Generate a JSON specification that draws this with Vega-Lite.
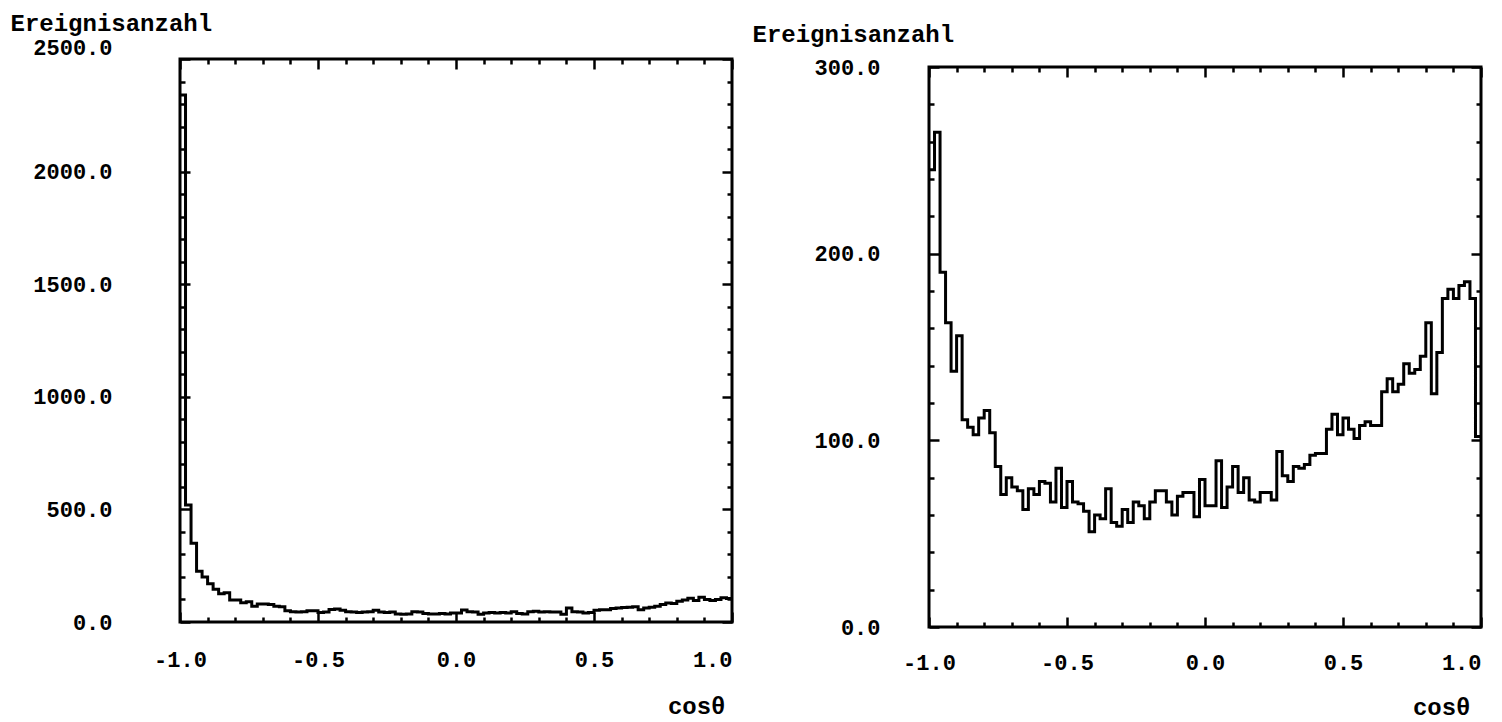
{
  "$schema": "https://vega.github.io/schema/vega-lite/v6.json",
  "autosize": {"type": "none"},
  "padding": {"left": 180, "top": 59, "right": 1322, "bottom": 663},
  "background": "white",
  "config": {
    "view": {"stroke": "black", "strokeWidth": 3},
    "font": "Liberation Mono",
    "axis": {
      "labelFont": "Liberation Mono", "labelFontWeight": "bold", "labelFontSize": 22, "labelColor": "black",
      "titleFont": "Liberation Mono", "titleFontWeight": "bold", "titleFontSize": 24, "titleColor": "black",
      "tickColor": "black", "tickWidth": 2.5, "domain": false, "grid": false, "labelOverlap": false
    }
  },
  "datasets": {
    "hist": [
      {"x": -1.0, "left": 2340, "right": 245}, {"x": -0.98, "left": 520, "right": 265}, {"x": -0.96, "left": 350, "right": 190}, {"x": -0.94, "left": 225, "right": 163}, {"x": -0.92, "left": 200, "right": 137},
      {"x": -0.9, "left": 170, "right": 156}, {"x": -0.88, "left": 145, "right": 111}, {"x": -0.86, "left": 125, "right": 107}, {"x": -0.84, "left": 130, "right": 103}, {"x": -0.82, "left": 98, "right": 112},
      {"x": -0.8, "left": 98, "right": 116}, {"x": -0.78, "left": 86, "right": 104}, {"x": -0.76, "left": 90, "right": 86}, {"x": -0.74, "left": 70, "right": 71}, {"x": -0.72, "left": 80, "right": 80},
      {"x": -0.7, "left": 80, "right": 75}, {"x": -0.68, "left": 78, "right": 73}, {"x": -0.66, "left": 70, "right": 63}, {"x": -0.64, "left": 68, "right": 74}, {"x": -0.62, "left": 50, "right": 71},
      {"x": -0.6, "left": 46, "right": 78}, {"x": -0.58, "left": 44, "right": 77}, {"x": -0.56, "left": 46, "right": 67}, {"x": -0.54, "left": 50, "right": 85}, {"x": -0.52, "left": 50, "right": 64},
      {"x": -0.5, "left": 42, "right": 78}, {"x": -0.48, "left": 44, "right": 67}, {"x": -0.46, "left": 56, "right": 66}, {"x": -0.44, "left": 58, "right": 62}, {"x": -0.42, "left": 52, "right": 51},
      {"x": -0.4, "left": 46, "right": 60}, {"x": -0.38, "left": 44, "right": 58}, {"x": -0.36, "left": 42, "right": 74}, {"x": -0.34, "left": 44, "right": 56}, {"x": -0.32, "left": 46, "right": 54},
      {"x": -0.3, "left": 52, "right": 63}, {"x": -0.28, "left": 44, "right": 56}, {"x": -0.26, "left": 42, "right": 67}, {"x": -0.24, "left": 44, "right": 65}, {"x": -0.22, "left": 36, "right": 58},
      {"x": -0.2, "left": 34, "right": 67}, {"x": -0.18, "left": 36, "right": 73}, {"x": -0.16, "left": 46, "right": 73}, {"x": -0.14, "left": 44, "right": 67}, {"x": -0.12, "left": 38, "right": 60},
      {"x": -0.1, "left": 36, "right": 70}, {"x": -0.08, "left": 36, "right": 72}, {"x": -0.06, "left": 38, "right": 72}, {"x": -0.04, "left": 36, "right": 59}, {"x": -0.02, "left": 40, "right": 79},
      {"x": 0.0, "left": 40, "right": 65}, {"x": 0.02, "left": 53, "right": 65}, {"x": 0.04, "left": 46, "right": 89}, {"x": 0.06, "left": 44, "right": 64}, {"x": 0.08, "left": 34, "right": 75},
      {"x": 0.1, "left": 40, "right": 86}, {"x": 0.12, "left": 42, "right": 72}, {"x": 0.14, "left": 40, "right": 80}, {"x": 0.16, "left": 42, "right": 68}, {"x": 0.18, "left": 40, "right": 67},
      {"x": 0.2, "left": 46, "right": 72}, {"x": 0.22, "left": 38, "right": 72}, {"x": 0.24, "left": 36, "right": 68}, {"x": 0.26, "left": 46, "right": 94}, {"x": 0.28, "left": 48, "right": 81},
      {"x": 0.3, "left": 44, "right": 78}, {"x": 0.32, "left": 46, "right": 86}, {"x": 0.34, "left": 44, "right": 85}, {"x": 0.36, "left": 44, "right": 87}, {"x": 0.38, "left": 34, "right": 92},
      {"x": 0.4, "left": 62, "right": 93}, {"x": 0.42, "left": 46, "right": 93}, {"x": 0.44, "left": 44, "right": 106}, {"x": 0.46, "left": 40, "right": 114}, {"x": 0.48, "left": 42, "right": 103},
      {"x": 0.5, "left": 52, "right": 112}, {"x": 0.52, "left": 54, "right": 106}, {"x": 0.54, "left": 54, "right": 101}, {"x": 0.56, "left": 60, "right": 108}, {"x": 0.58, "left": 62, "right": 110},
      {"x": 0.6, "left": 64, "right": 108}, {"x": 0.62, "left": 66, "right": 108}, {"x": 0.64, "left": 68, "right": 126}, {"x": 0.66, "left": 54, "right": 133}, {"x": 0.68, "left": 62, "right": 126},
      {"x": 0.7, "left": 66, "right": 130}, {"x": 0.72, "left": 70, "right": 141}, {"x": 0.74, "left": 78, "right": 136}, {"x": 0.76, "left": 84, "right": 138}, {"x": 0.78, "left": 82, "right": 145},
      {"x": 0.8, "left": 92, "right": 163}, {"x": 0.82, "left": 98, "right": 125}, {"x": 0.84, "left": 105, "right": 147}, {"x": 0.86, "left": 96, "right": 176}, {"x": 0.88, "left": 110, "right": 181},
      {"x": 0.9, "left": 100, "right": 176}, {"x": 0.92, "left": 96, "right": 183}, {"x": 0.94, "left": 100, "right": 185}, {"x": 0.96, "left": 108, "right": 176}, {"x": 0.98, "left": 104, "right": 102},
      {"x": 1.0, "left": 104, "right": 102}
    ]
  },
  "bounds": "flush",
  "spacing": 197,
  "hconcat": [
    {
      "width": 552,
      "height": 563,
      "data": {"name": "hist"},
      "layer": [
        {
          "mark": {"type": "line", "interpolate": "step-after", "color": "black", "strokeWidth": 3},
          "encoding": {
            "x": {
              "field": "x", "type": "quantitative",
              "scale": {"domain": [-1, 1], "nice": false, "zero": false},
              "axis": {
                "orient": "bottom",
                "values": [-1, -0.9, -0.8, -0.7, -0.6, -0.5, -0.4, -0.3, -0.2, -0.1, 0, 0.1, 0.2, 0.3, 0.4, 0.5, 0.6, 0.7, 0.8, 0.9, 1],
                "labelExpr": "abs(datum.value*2 - round(datum.value*2)) < 0.001 ? (datum.value < -0.001 ? '-' : '') + format(abs(datum.value), '.1f') : ''",
                "tickSize": {"condition": {"test": "abs(datum.value*2 - round(datum.value*2)) < 0.001", "value": -10}, "value": -5},
                "labelPadding": 37,
                "labelAlign": {"condition": {"test": "datum.value > 0.99", "value": "right"}, "value": "center"},
                "title": "cosθ",
                "titleAnchor": "end", "titleAlign": "right", "titleBaseline": "alphabetic",
                "titleX": 545, "titleY": 91
              }
            },
            "y": {
              "field": "left", "type": "quantitative",
              "scale": {"domain": [0, 2500], "nice": false},
              "axis": {
                "orient": "left",
                "values": [0, 100, 200, 300, 400, 500, 600, 700, 800, 900, 1000, 1100, 1200, 1300, 1400, 1500, 1600, 1700, 1800, 1900, 2000, 2100, 2200, 2300, 2400, 2500],
                "labelExpr": "datum.value % 500 == 0 ? format(datum.value, '.1f') : ''",
                "tickSize": {"condition": {"test": "datum.value % 500 == 0", "value": -10}, "value": -5},
                "labelPadding": 78,
                "labelBaseline": {"condition": {"test": "datum.value >= 2500", "value": "bottom"}, "value": "middle"},
                "title": "Ereignisanzahl",
                "titleAngle": 0, "titleAlign": "left", "titleBaseline": "alphabetic",
                "titleX": -170, "titleY": -29
              }
            }
          }
        },
        {
          "mark": {"type": "point", "opacity": 0},
          "encoding": {
            "x": {
              "field": "x", "type": "quantitative",
              "axis": {
                "orient": "top", "labels": false, "title": null,
                "values": [-1, -0.9, -0.8, -0.7, -0.6, -0.5, -0.4, -0.3, -0.2, -0.1, 0, 0.1, 0.2, 0.3, 0.4, 0.5, 0.6, 0.7, 0.8, 0.9, 1],
                "tickSize": {"condition": {"test": "abs(datum.value*2 - round(datum.value*2)) < 0.001", "value": -10}, "value": -5}
              }
            },
            "y": {
              "field": "left", "type": "quantitative",
              "axis": {
                "orient": "right", "labels": false, "title": null,
                "values": [0, 100, 200, 300, 400, 500, 600, 700, 800, 900, 1000, 1100, 1200, 1300, 1400, 1500, 1600, 1700, 1800, 1900, 2000, 2100, 2200, 2300, 2400, 2500],
                "tickSize": {"condition": {"test": "datum.value % 500 == 0", "value": -10}, "value": -5}
              }
            }
          }
        }
      ],
      "resolve": {"axis": {"x": "independent", "y": "independent"}}
    },
    {
      "bounds": "flush",
      "spacing": 7,
      "vconcat": [
        {
          "width": 552,
          "height": 1,
          "data": {"values": []},
          "mark": {"type": "point", "opacity": 0},
          "view": {"stroke": null}
        },
        {
          "width": 552,
          "height": 560,
          "data": {"name": "hist"},
          "layer": [
            {
              "mark": {"type": "line", "interpolate": "step-after", "color": "black", "strokeWidth": 3},
              "encoding": {
                "x": {
                  "field": "x", "type": "quantitative",
                  "scale": {"domain": [-1, 1], "nice": false, "zero": false},
                  "axis": {
                    "orient": "bottom",
                    "values": [-1, -0.9, -0.8, -0.7, -0.6, -0.5, -0.4, -0.3, -0.2, -0.1, 0, 0.1, 0.2, 0.3, 0.4, 0.5, 0.6, 0.7, 0.8, 0.9, 1],
                    "labelExpr": "abs(datum.value*2 - round(datum.value*2)) < 0.001 ? (datum.value < -0.001 ? '-' : '') + format(abs(datum.value), '.1f') : ''",
                    "tickSize": {"condition": {"test": "abs(datum.value*2 - round(datum.value*2)) < 0.001", "value": -10}, "value": -5},
                    "labelPadding": 35,
                    "labelAlign": {"condition": {"test": "datum.value > 0.99", "value": "right"}, "value": "center"},
                    "title": "cosθ",
                    "titleAnchor": "end", "titleAlign": "right", "titleBaseline": "alphabetic",
                    "titleX": 541, "titleY": 87
                  }
                },
                "y": {
                  "field": "right", "type": "quantitative",
                  "scale": {"domain": [0, 300], "nice": false},
                  "axis": {
                    "orient": "left",
                    "values": [0, 20, 40, 60, 80, 100, 120, 140, 160, 180, 200, 220, 240, 260, 280, 300],
                    "labelExpr": "datum.value % 100 == 0 ? format(datum.value, '.1f') : ''",
                    "tickSize": {"condition": {"test": "datum.value % 100 == 0", "value": -10}, "value": -5},
                    "labelPadding": 59,
                    "title": "Ereignisanzahl",
                    "titleAngle": 0, "titleAlign": "left", "titleBaseline": "alphabetic",
                    "titleX": -177, "titleY": -26
                  }
                }
              }
            },
            {
              "mark": {"type": "point", "opacity": 0},
              "encoding": {
                "x": {
                  "field": "x", "type": "quantitative",
                  "axis": {
                    "orient": "top", "labels": false, "title": null,
                    "values": [-1, -0.9, -0.8, -0.7, -0.6, -0.5, -0.4, -0.3, -0.2, -0.1, 0, 0.1, 0.2, 0.3, 0.4, 0.5, 0.6, 0.7, 0.8, 0.9, 1],
                    "tickSize": {"condition": {"test": "abs(datum.value*2 - round(datum.value*2)) < 0.001", "value": -10}, "value": -5}
                  }
                },
                "y": {
                  "field": "right", "type": "quantitative",
                  "axis": {
                    "orient": "right", "labels": false, "title": null,
                    "values": [0, 20, 40, 60, 80, 100, 120, 140, 160, 180, 200, 220, 240, 260, 280, 300],
                    "tickSize": {"condition": {"test": "datum.value % 100 == 0", "value": -10}, "value": -5}
                  }
                }
              }
            }
          ],
          "resolve": {"axis": {"x": "independent", "y": "independent"}}
        }
      ]
    }
  ]
}
